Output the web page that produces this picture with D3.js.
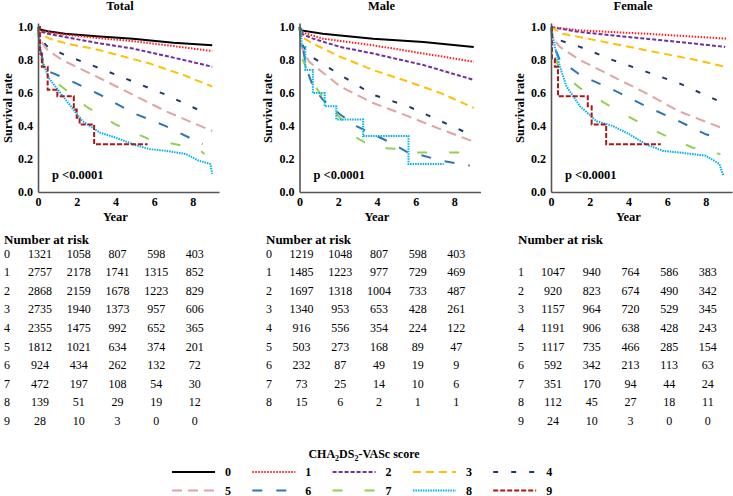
<!DOCTYPE html>
<html>
<head>
<meta charset="utf-8">
<script src="https://cdn.jsdelivr.net/npm/d3@7"></script>
<style>
  body { margin: 0; background: #fff; }
  svg text { font-family: "Liberation Serif", "Times New Roman", serif !important; }
</style>
</head>
<body>
<div id="graf"></div>
<script>
// curvas de supervivencia por puntaje CHA2DS2-VASc

// datos: [anio, supervivencia]
puntajes = ['0', '1', '2', '3', '4', '5', '6', '7', '8', '9']
anios    = [0, 2, 4, 6, 8]
yTicks   = [0, 0.2, 0.4, 0.6, 0.8, 1.0]

curvasTotal = [
  [[0,1],[0.1,0.985],[0.5,0.975],[1.4,0.96],[3,0.945],[4.9,0.93],[7,0.905],[9.0,0.89]],
  [[0,1],[0.1,0.98],[0.5,0.97],[1.4,0.955],[3,0.935],[4.9,0.915],[7,0.885],[9.0,0.855]],
  [[0,1],[0.1,0.975],[0.5,0.96],[1.4,0.94],[3,0.905],[4.9,0.87],[7,0.815],[9.0,0.76]],
  [[0,1],[0.1,0.96],[0.6,0.93],[1.5,0.9],[3.2,0.86],[5.75,0.78],[7.5,0.71],[9.0,0.64]],
  [[0,1],[0.1,0.93],[0.5,0.88],[1.4,0.83],[3.2,0.75],[4.9,0.67],[6.6,0.59],[8.8,0.47]],
  [[0,1],[0.1,0.92],[0.5,0.86],[1.26,0.80],[3.2,0.69],[4.9,0.59],[6.6,0.49],[9.0,0.37]],
  [[0,1],[0.1,0.87],[0.3,0.78],[0.57,0.73],[1.4,0.69],[3.2,0.59],[4.9,0.48],[6.6,0.40],[8.5,0.29]],
  [[0,1],[0.1,0.85],[0.3,0.76],[0.57,0.70],[1.43,0.62],[2.47,0.52],[4.0,0.41],[5.75,0.32],[7.1,0.29],[8.3,0.26],[8.6,0.23]],
  [[0,1],[0.2,0.80],[0.57,0.69],[1.43,0.56],[2.3,0.43],[3.2,0.36],[4.0,0.33],[4.9,0.29],[5.75,0.26],[6.6,0.25],[7.65,0.23],[8.3,0.19],[8.9,0.17],[9.0,0.11]],
  [[0,1],[0.1,0.84],[0.2,0.76],[0.5,0.62],[1.0,0.58],[1.85,0.50],[2.0,0.45],[2.15,0.41],[2.9,0.29],[5.66,0.29]]
]

curvasMale = [
  [[0,1],[0.1,0.98],[1.2,0.96],[3.8,0.93],[6.4,0.91],[9.0,0.88]],
  [[0,1],[0.1,0.97],[1.2,0.93],[3.8,0.89],[6.4,0.84],[9.0,0.79]],
  [[0,1],[0.1,0.96],[0.7,0.93],[2.1,0.88],[3.8,0.84],[6.4,0.77],[9.0,0.68]],
  [[0,1],[0.1,0.94],[0.7,0.90],[2.1,0.82],[3.8,0.74],[5.6,0.67],[7.3,0.60],[9.0,0.51]],
  [[0,1],[0.1,0.90],[0.5,0.83],[2.1,0.71],[3.8,0.59],[5.6,0.52],[7.3,0.43],[8.8,0.35]],
  [[0,1],[0.1,0.88],[0.5,0.79],[2.1,0.64],[3.8,0.54],[5.6,0.46],[7.3,0.38],[8.9,0.31]],
  [[0,1],[0.17,0.88],[0.35,0.75],[0.7,0.64],[1.2,0.56],[2.1,0.47],[2.94,0.40],[3.8,0.35],[4.7,0.30],[5.6,0.24],[6.4,0.22],[7.3,0.19],[8.8,0.16]],
  [[0,1],[0.17,0.80],[0.7,0.66],[1.4,0.54],[2.1,0.45],[2.94,0.33],[3.8,0.27],[5.2,0.26],[5.9,0.24],[8.2,0.24],[8.3,0.21],[8.4,0.21]],
  [[0,1],[0.1,0.88],[0.3,0.74],[0.69,0.60],[1.3,0.52],[1.9,0.44],[3.29,0.34],[5.63,0.17],[7.45,0.17]],
  null
]

curvasFemale = [
  null,
  [[0,1],[1.5,0.98],[4.9,0.96],[9.1,0.93]],
  [[0,1],[1.5,0.97],[4.0,0.94],[6.6,0.91],[9.0,0.88]],
  [[0,1],[0.6,0.96],[2.35,0.92],[4.9,0.86],[7.5,0.80],[9.0,0.76]],
  [[0,1],[0.1,0.95],[0.46,0.92],[1.5,0.88],[3.2,0.80],[4.9,0.73],[6.6,0.66],[8.7,0.55]],
  [[0,1],[0.1,0.93],[0.46,0.88],[1.5,0.80],[3.2,0.70],[4.9,0.60],[6.6,0.49],[9.0,0.38]],
  [[0,1],[0.1,0.90],[0.46,0.80],[1.5,0.71],[3.2,0.62],[4.9,0.52],[6.6,0.43],[8.0,0.35],[8.8,0.32]],
  [[0,1],[0.1,0.86],[0.46,0.73],[1.5,0.63],[3.2,0.51],[4.9,0.40],[6.1,0.33],[7.3,0.27],[8.3,0.24],[8.75,0.23]],
  [[0,1],[0.2,0.88],[0.46,0.76],[0.8,0.64],[1.5,0.52],[2.35,0.43],[3.2,0.40],[4.05,0.35],[4.9,0.29],[5.76,0.25],[6.6,0.24],[8.0,0.22],[8.7,0.17],[8.9,0.10]],
  [[0,1],[0.05,0.81],[0.2,0.76],[0.36,0.58],[1.9,0.52],[2.1,0.41],[2.85,0.29],[5.67,0.29]]
]

// numero en riesgo (fila = puntaje, columnas = anios 0,2,4,6,8)
riesgoTotal = [
  [1321, 1058, 807, 598, 403],
  [2757, 2178, 1741, 1315, 852],
  [2868, 2159, 1678, 1223, 829],
  [2735, 1940, 1373, 957, 606],
  [2355, 1475, 992, 652, 365],
  [1812, 1021, 634, 374, 201],
  [924, 434, 262, 132, 72],
  [472, 197, 108, 54, 30],
  [139, 51, 29, 19, 12],
  [28, 10, 3, 0, 0]
]
riesgoMale = [
  [1219, 1048, 807, 598, 403],
  [1485, 1223, 977, 729, 469],
  [1697, 1318, 1004, 733, 487],
  [1340, 953, 653, 428, 261],
  [916, 556, 354, 224, 122],
  [503, 273, 168, 89, 47],
  [232, 87, 49, 19, 9],
  [73, 25, 14, 10, 6],
  [15, 6, 2, 1, 1],
  null
]
riesgoFemale = [
  null,
  [1047, 940, 764, 586, 383],
  [920, 823, 674, 490, 342],
  [1157, 964, 720, 529, 345],
  [1191, 906, 638, 428, 243],
  [1117, 735, 466, 285, 154],
  [592, 342, 213, 113, 63],
  [351, 170, 94, 44, 24],
  [112, 45, 27, 18, 11],
  [24, 10, 3, 0, 0]
]

// estilos por puntaje
colores = ['#000000', '#ff1a1a', '#7030a0', '#ffc000', '#1f3864',
           '#e0a4a4', '#2e75b6', '#92d050', '#00b0f0', '#b01515']
guiones = ['none', '1.5,1.5', '4,2', '8,5', '5,13',
           '10,6', '10,14', '10,22', '1.5,1', '5,2']

fuente = '"Liberation Serif", "Times New Roman", serif'

ancho_total = 733
alto_total  = 496

svg = d3.select('#graf').append('svg')
  .attr('width', ancho_total)
  .attr('height', alto_total)
  .style('font-family', fuente)

yTop = 23
yBot = 192

paneles = [
  { titulo: 'Total',  x0: 38,    ylab: 8,   tabla: 4,   curvas: curvasTotal,  riesgo: riesgoTotal,  escalon: [9] },
  { titulo: 'Male',   x0: 299.5, ylab: 268, tabla: 266, curvas: curvasMale,   riesgo: riesgoMale,   escalon: [8] },
  { titulo: 'Female', x0: 551,   ylab: 520, tabla: 518, curvas: curvasFemale, riesgo: riesgoFemale, escalon: [9] }
]

y = d3.scaleLinear().domain([0, 1.025]).range([yBot, yTop])

paneles.forEach(p => {
  x = d3.scaleLinear().domain([0, 9.35]).range([p.x0, p.x0 + 181])
  g = svg.append('g')

  // titulo
  g.append('text')
    .attr('x', p.x0 + 82)
    .attr('y', 10)
    .attr('text-anchor', 'middle')
    .attr('font-weight', 'bold')
    .attr('font-size', '12.5px')
    .text(p.titulo)

  // curvas
  p.curvas.forEach((c, i) => {
    if (!c) return
    linea = d3.line()
      .x(d => x(d[0]))
      .y(d => y(d[1]))
      .curve(p.escalon.includes(i) ? d3.curveStepAfter : d3.curveLinear)
    g.append('path')
      .attr('d', linea(c))
      .attr('fill', 'none')
      .attr('stroke', colores[i])
      .attr('stroke-width', 2)
      .attr('stroke-dasharray', guiones[i])
  })

  // ejes
  xAxis = d3.axisBottom(x).tickValues(anios).tickSize(0).tickSizeOuter(0).tickPadding(5)
  yAxis = d3.axisLeft(y).tickValues(yTicks).tickFormat(d3.format('.1f')).tickSize(0).tickSizeOuter(0).tickPadding(5)

  gx = g.append('g').attr('transform', `translate(0,${yBot})`).call(xAxis)
  gy = g.append('g').attr('transform', `translate(${p.x0},0)`).call(yAxis)
  ;[gx, gy].forEach(a => {
    a.attr('font-family', null)
    a.select('.domain').attr('stroke', '#555').attr('stroke-width', 1.6)
    a.selectAll('text')
      .style('font-family', fuente)
      .attr('font-weight', 'bold')
      .attr('font-size', '12px')
      .attr('fill', '#000')
  })

  g.append('text')
    .attr('x', x(4))
    .attr('y', 221)
    .attr('text-anchor', 'middle')
    .attr('font-weight', 'bold')
    .attr('font-size', '12.5px')
    .text('Year')

  g.append('text')
    .attr('transform', `translate(${p.ylab + 4},108) rotate(-90)`)
    .attr('text-anchor', 'middle')
    .attr('font-weight', 'bold')
    .attr('font-size', '12.5px')
    .text('Survival rate')

  g.append('text')
    .attr('x', p.x0 + 14)
    .attr('y', 179)
    .attr('font-weight', 'bold')
    .attr('font-size', '12.5px')
    .text('p <0.0001')

  // tabla numero en riesgo
  g.append('text')
    .attr('x', p.tabla)
    .attr('y', 244)
    .attr('font-weight', 'bold')
    .attr('font-size', '13px')
    .text('Number at risk')

  p.riesgo.forEach((fila, i) => {
    if (!fila) return
    yy = 257.5 + i * 18.6
    g.append('text')
      .attr('x', p.tabla)
      .attr('y', yy)
      .attr('font-size', '12px')
      .text(puntajes[i])
    fila.forEach((v, j) => {
      g.append('text')
        .attr('x', x(anios[j]) + 2)
        .attr('y', yy)
        .attr('text-anchor', 'middle')
        .attr('font-size', '12px')
        .text(v)
    })
  })
})

// leyenda
titulo = svg.append('text')
  .attr('x', 364)
  .attr('y', 458)
  .attr('text-anchor', 'middle')
  .attr('font-weight', 'bold')
  .attr('font-size', '12px')
titulo.append('tspan').text('CHA')
titulo.append('tspan').attr('font-size', '8px').attr('dy', 3).text('2')
titulo.append('tspan').attr('dy', -3).text('DS')
titulo.append('tspan').attr('font-size', '8px').attr('dy', 3).text('2')
titulo.append('tspan').attr('dy', -3).text('-VASc score')

puntajes.forEach((d, i) => {
  lx = 172 + (i % 5) * 80.3
  ly = i < 5 ? 472 : 490.5
  svg.append('line')
    .attr('x1', lx)
    .attr('x2', lx + 43)
    .attr('y1', ly)
    .attr('y2', ly)
    .attr('stroke', colores[i])
    .attr('stroke-width', 2)
    .attr('stroke-dasharray', guiones[i])
  svg.append('text')
    .attr('x', lx + 56)
    .attr('y', ly + 4)
    .attr('text-anchor', 'middle')
    .attr('font-weight', 'bold')
    .attr('font-size', '12px')
    .text(d)
})
</script>
</body>
</html>
